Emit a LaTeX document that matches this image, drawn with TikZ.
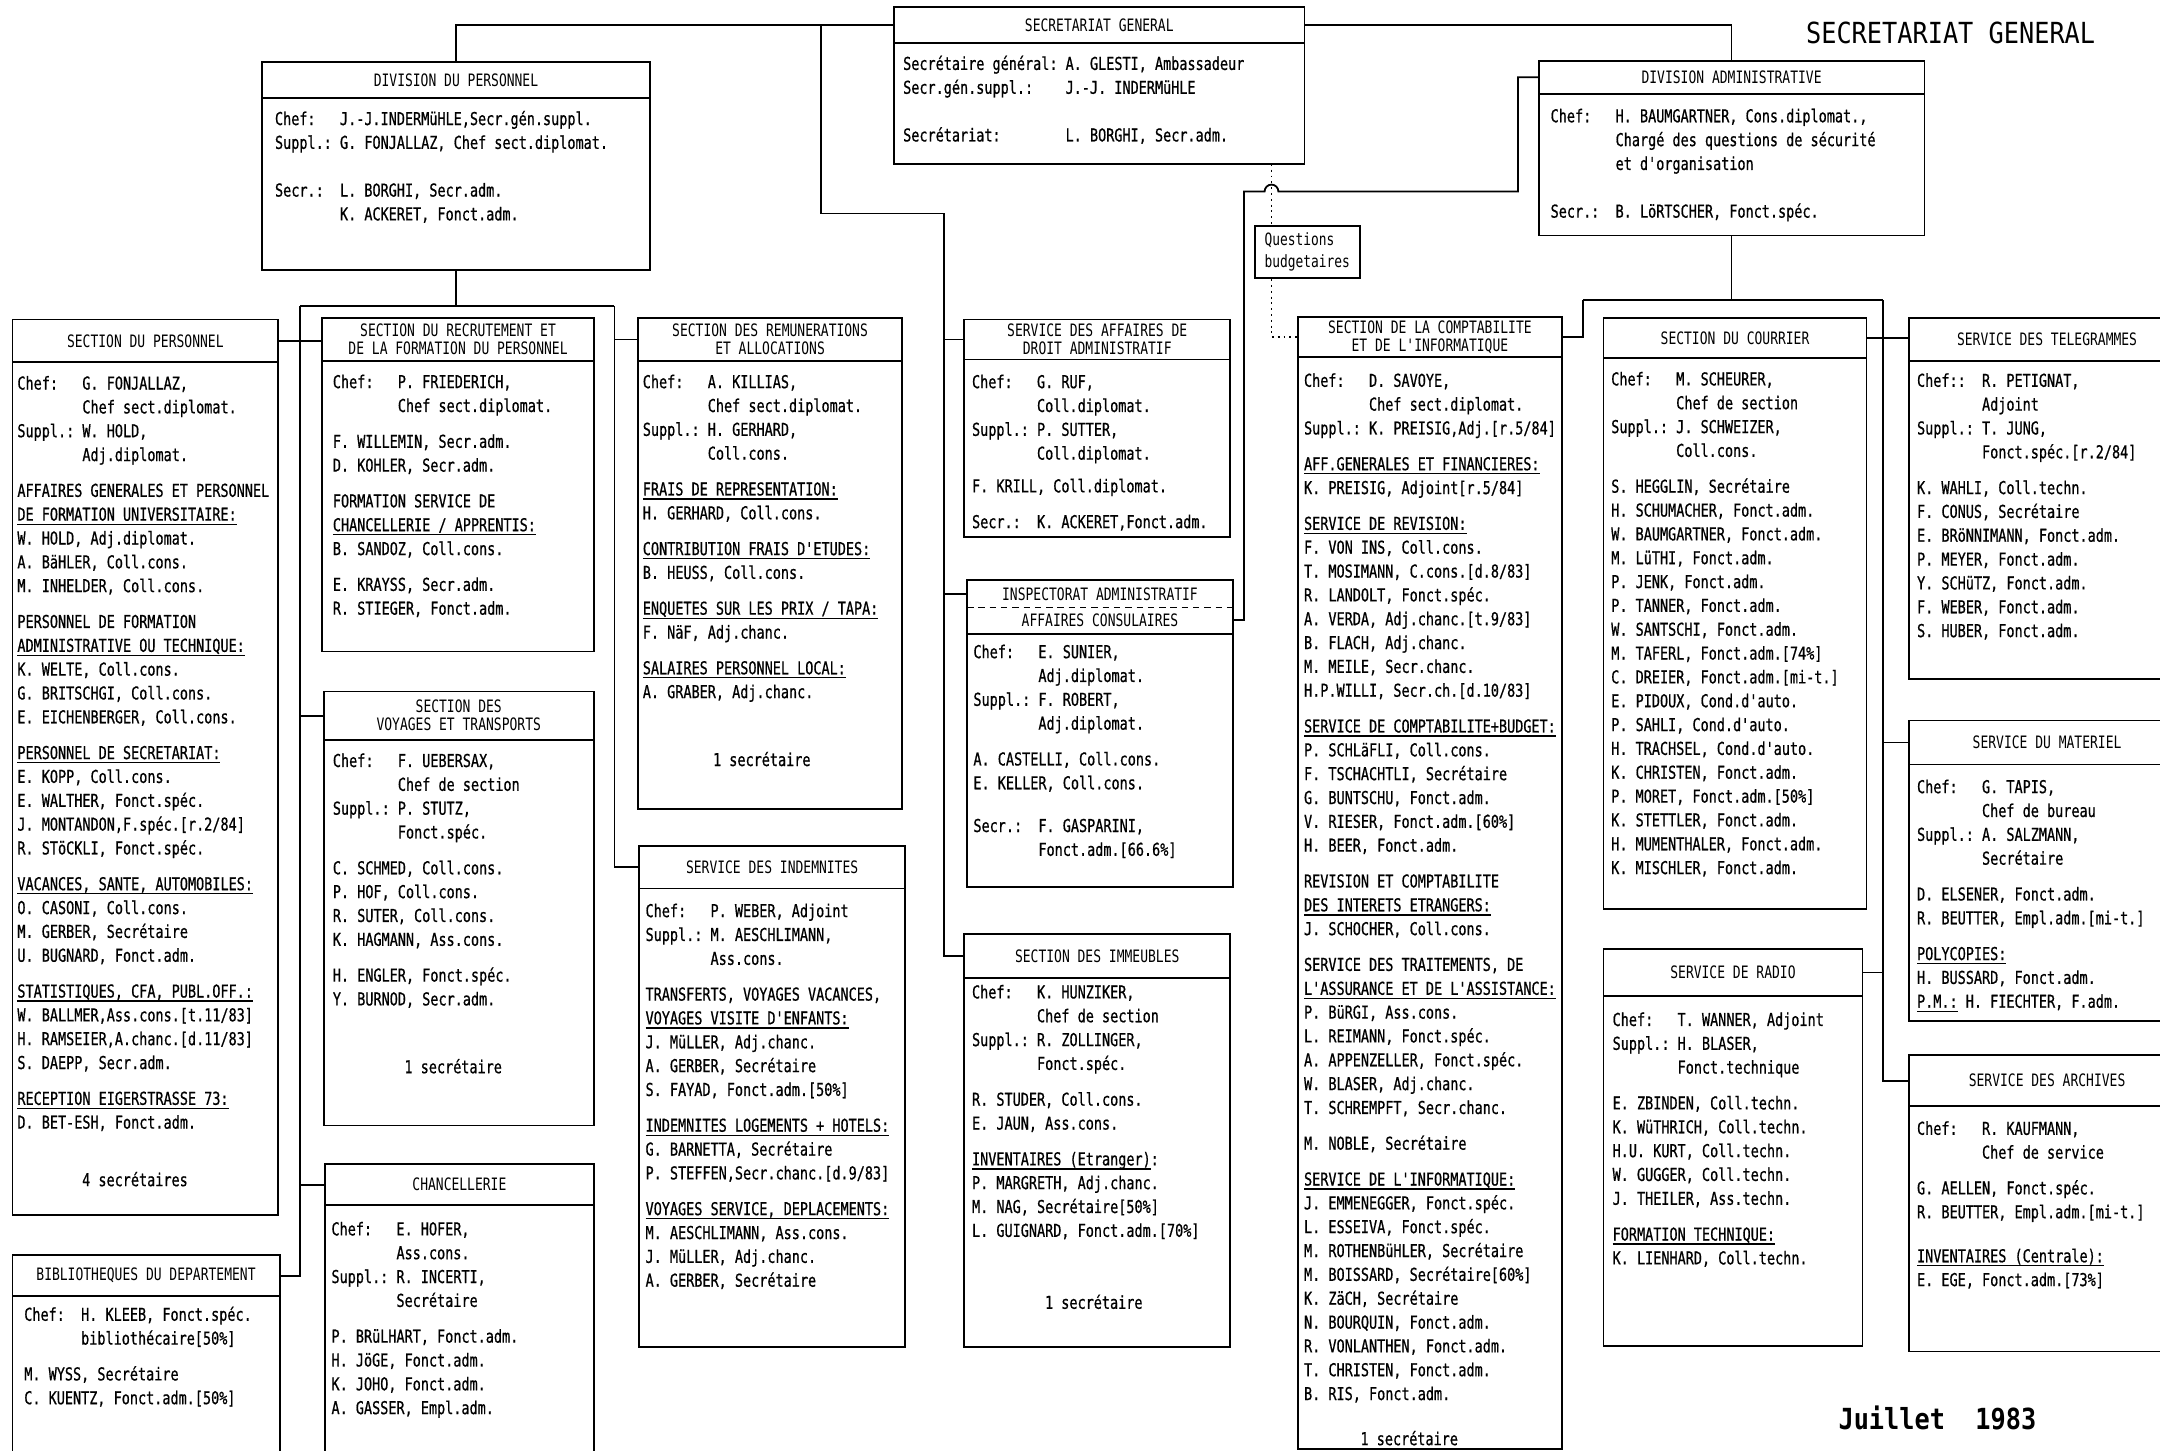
\documentclass[tikz,border=0pt]{standalone}
\usepackage{fontspec}
\usepackage{tikz}
\usetikzlibrary{calc,positioning}

\setmonofont[FakeStretch=0.76]{DejaVu Sans Mono}
\newfontfamily\orgfont[FakeStretch=0.76, FakeBold=0.7]{DejaVu Sans Mono}
\newfontfamily\bigfont[FakeStretch=0.87]{DejaVu Sans Mono}
\newcommand\bodyfont{\orgfont\fontsize{11}{14.77}\selectfont}
\newcommand\titlefont{\ttfamily\fontsize{10.6}{11.1}\selectfont}
\newcommand\qfont{\ttfamily\fontsize{10.5}{13.7}\selectfont}
\newcommand\pagefont{\bigfont\fontsize{18}{20}\selectfont}

\newlength\chw
\settowidth\chw{\bodyfont M}
\newcommand\plab[2][8]{\makebox[#1\chw][l]{#2}}
\newcommand\pind{\hspace*{8\chw}}
\newcommand\pgap{\\[7.4pt]}
\newcommand\pblank{\\[14.77pt]}
\newcommand\hdul[1]{\setbox0\hbox{#1}\rlap{\rule[-2.6pt]{\wd0}{0.8pt}}\box0\relax}

\tikzset{
  unit/.style={draw, inner sep=0pt, outer sep=0pt, anchor=north west},
  unittitle/.style={font=\titlefont, align=center, inner sep=0pt},
  unitbody/.style={font=\bodyfont, align=left, inner sep=0pt, anchor=north west},
  note/.style={font=\bodyfont, inner sep=0pt},
  budget/.style={dash pattern=on 1.2pt off 2.4pt},
  budgetbox/.style={draw, font=\qfont, align=left, inner sep=0pt,
    minimum width=76*0.03cm, minimum height=38*0.03cm},
}

% box: name, x, y, width, height, header height, body offset, title, body
\newcommand{\orgunit}[9]{%
  \node[unit, minimum width=#4*0.03cm, minimum height=#5*0.03cm] (#1) at (#2,#3) {};
  \draw (#1.north west) ++(0,#6) -- ++(#4,0);
  \path (#1.north west) ++(#4/2,#6/2) node[unittitle] (#1-t) {#8};
  \path (#1.north west) ++(#7) node[unitbody] (#1-b) {\strut#9};
}

\begin{document}
\begin{tikzpicture}[x=0.03cm, y=-0.03cm, line width=1.1pt]
        \path[fill=white, use as bounding box] (0,0) rectangle (1568,1053);

        % top
        \orgunit{sg}{649}{5}{298}{114}{26}{6,33}{SECRETARIAT GENERAL}{%
          \plab[20]{Secrétaire général:}A. GLESTI, Ambassadeur\\
          \plab[20]{Secr.gén.suppl.:}J.-J. INDERMüHLE\pblank
          \plab[20]{Secrétariat:}L. BORGHI, Secr.adm.}
        \orgunit{dp}{190}{45}{282}{151}{26}{9,33}{DIVISION DU PERSONNEL}{%
          \plab{Chef:}J.-J.INDERMüHLE,Secr.gén.suppl.\\
          \plab{Suppl.:}G. FONJALLAZ, Chef sect.diplomat.\pblank
          \plab{Secr.:}L. BORGHI, Secr.adm.\\
          \pind K. ACKERET, Fonct.adm.}
        \orgunit{da}{1117}{44}{280}{127}{24}{8,32}{DIVISION ADMINISTRATIVE}{%
          \plab{Chef:}H. BAUMGARTNER, Cons.diplomat.,\\
          \pind Chargé des questions de sécurité\\
          \pind et d'organisation\pblank
          \plab{Secr.:}B. LöRTSCHER, Fonct.spéc.}
        \node[budgetbox] (qb) at (949,183) {Questions\\budgetaires};
        \node[font=\pagefont, inner sep=0pt] (pagetitle) at (1416,24) {SECRETARIAT GENERAL};
        \node[font=\pagefont\bfseries, inner sep=0pt, anchor=west] (pagedate) at (1334,1029) {Juillet\ \ 1983};

        % division du personnel
        \orgunit{secpers}{9}{232}{193}{650}{31}{3,38}{SECTION DU PERSONNEL}{%
          \plab{Chef:}G. FONJALLAZ,\\
          \pind Chef sect.diplomat.\\
          \plab{Suppl.:}W. HOLD,\\
          \pind Adj.diplomat.\pgap
          AFFAIRES GENERALES ET PERSONNEL\\
          \hdul{DE FORMATION UNIVERSITAIRE:}\\
          W. HOLD, Adj.diplomat.\\
          A. BäHLER, Coll.cons.\\
          M. INHELDER, Coll.cons.\pgap
          PERSONNEL DE FORMATION\\
          \hdul{ADMINISTRATIVE OU TECHNIQUE:}\\
          K. WELTE, Coll.cons.\\
          G. BRITSCHGI, Coll.cons.\\
          E. EICHENBERGER, Coll.cons.\pgap
          \hdul{PERSONNEL DE SECRETARIAT:}\\
          E. KOPP, Coll.cons.\\
          E. WALTHER, Fonct.spéc.\\
          J. MONTANDON,F.spéc.[r.2/84]\\
          R. STöCKLI, Fonct.spéc.\pgap
          \hdul{VACANCES, SANTE, AUTOMOBILES:}\\
          O. CASONI, Coll.cons.\\
          M. GERBER, Secrétaire\\
          U. BUGNARD, Fonct.adm.\pgap
          \hdul{STATISTIQUES, CFA, PUBL.OFF.:}\\
          W. BALLMER,Ass.cons.[t.11/83]\\
          H. RAMSEIER,A.chanc.[d.11/83]\\
          S. DAEPP, Secr.adm.\pgap
          \hdul{RECEPTION EIGERSTRASSE 73:}\\
          D. BET-ESH, Fonct.adm.}
        \node[note] (secpers-n) at (98,856) {4 secrétaires};
        \orgunit{bib}{9}{911}{194}{160}{30}{8,35}{BIBLIOTHEQUES DU DEPARTEMENT}{%
          \plab[7]{Chef:}H. KLEEB, Fonct.spéc.\\
          \hspace*{7\chw}bibliothécaire[50\%]\pgap
          M. WYSS, Secrétaire\\
          C. KUENTZ, Fonct.adm.[50\%]}
        \orgunit{recr}{234}{231}{197}{242}{31}{7,38}{SECTION DU RECRUTEMENT ET\\DE LA FORMATION DU PERSONNEL}{%
          \plab{Chef:}P. FRIEDERICH,\\
          \pind Chef sect.diplomat.\pgap
          F. WILLEMIN, Secr.adm.\\
          D. KOHLER, Secr.adm.\pgap
          FORMATION SERVICE DE\\
          \hdul{CHANCELLERIE / APPRENTIS:}\\
          B. SANDOZ, Coll.cons.\pgap
          E. KRAYSS, Secr.adm.\\
          R. STIEGER, Fonct.adm.}
        \orgunit{voy}{235}{502}{196}{315}{35}{6,42}{SECTION DES\\VOYAGES ET TRANSPORTS}{%
          \plab{Chef:}F. UEBERSAX,\\
          \pind Chef de section\\
          \plab{Suppl.:}P. STUTZ,\\
          \pind Fonct.spéc.\pgap
          C. SCHMED, Coll.cons.\\
          P. HOF, Coll.cons.\\
          R. SUTER, Coll.cons.\\
          K. HAGMANN, Ass.cons.\pgap
          H. ENGLER, Fonct.spéc.\\
          Y. BURNOD, Secr.adm.}
        \node[note] (voy-n) at (329,774) {1 secrétaire};
        \orgunit{chanc}{236}{845}{195}{230}{30}{4,39}{CHANCELLERIE}{%
          \plab{Chef:}E. HOFER,\\
          \pind Ass.cons.\\
          \plab{Suppl.:}R. INCERTI,\\
          \pind Secrétaire\pgap
          P. BRüLHART, Fonct.adm.\\
          H. JöGE, Fonct.adm.\\
          K. JOHO, Fonct.adm.\\
          A. GASSER, Empl.adm.}
        \orgunit{remun}{463}{231}{192}{356}{31}{3,38}{SECTION DES REMUNERATIONS\\ET ALLOCATIONS}{%
          \plab{Chef:}A. KILLIAS,\\
          \pind Chef sect.diplomat.\\
          \plab{Suppl.:}H. GERHARD,\\
          \pind Coll.cons.\pgap
          \hdul{FRAIS DE REPRESENTATION:}\\
          H. GERHARD, Coll.cons.\pgap
          \hdul{CONTRIBUTION FRAIS D'ETUDES:}\\
          B. HEUSS, Coll.cons.\pgap
          \hdul{ENQUETES SUR LES PRIX / TAPA:}\\
          F. NäF, Adj.chanc.\pgap
          \hdul{SALAIRES PERSONNEL LOCAL:}\\
          A. GRABER, Adj.chanc.}
        \node[note] (remun-n) at (553,551) {1 secrétaire};
        \orgunit{indem}{464}{614}{193}{364}{31}{4,39}{SERVICE DES INDEMNITES}{%
          \plab{Chef:}P. WEBER, Adjoint\\
          \plab{Suppl.:}M. AESCHLIMANN,\\
          \pind Ass.cons.\pgap
          TRANSFERTS, VOYAGES VACANCES,\\
          \hdul{VOYAGES VISITE D'ENFANTS:}\\
          J. MüLLER, Adj.chanc.\\
          A. GERBER, Secrétaire\\
          S. FAYAD, Fonct.adm.[50\%]\pgap
          \hdul{INDEMNITES LOGEMENTS + HOTELS:}\\
          G. BARNETTA, Secrétaire\\
          P. STEFFEN,Secr.chanc.[d.9/83]\pgap
          \hdul{VOYAGES SERVICE, DEPLACEMENTS:}\\
          M. AESCHLIMANN, Ass.cons.\\
          J. MüLLER, Adj.chanc.\\
          A. GERBER, Secrétaire}

        % services of the secretariat
        \orgunit{droit}{700}{232}{193}{158}{29}{5,37}{SERVICE DES AFFAIRES DE\\DROIT ADMINISTRATIF}{%
          \plab{Chef:}G. RUF,\\
          \pind Coll.diplomat.\\
          \plab{Suppl.:}P. SUTTER,\\
          \pind Coll.diplomat.\\[5.5pt]
          F. KRILL, Coll.diplomat.\pgap
          \plab{Secr.:}K. ACKERET,Fonct.adm.}
        \orgunit{insp}{702}{421}{193}{223}{39}{4,44}{INSPECTORAT ADMINISTRATIF\\[5pt]AFFAIRES CONSULAIRES}{%
          \plab{Chef:}E. SUNIER,\\
          \pind Adj.diplomat.\\
          \plab{Suppl.:}F. ROBERT,\\
          \pind Adj.diplomat.\pgap
          A. CASTELLI, Coll.cons.\\
          E. KELLER, Coll.cons.\\[11.7pt]
          \plab{Secr.:}F. GASPARINI,\\
          \pind Fonct.adm.[66.6\%]}
        \draw[dash pattern=on 4pt off 3pt] (insp.north west) ++(0,20) -- ++(193,0);
        \coordinate (insp-a) at ([yshift=-0.3cm]insp.north west);
        \coordinate (insp-c) at ([yshift=-0.87cm]insp.north east);
        \orgunit{imm}{700}{678}{193}{300}{32}{5,34}{SECTION DES IMMEUBLES}{%
          \plab{Chef:}K. HUNZIKER,\\
          \pind Chef de section\\
          \plab{Suppl.:}R. ZOLLINGER,\\
          \pind Fonct.spéc.\pgap
          R. STUDER, Coll.cons.\\
          E. JAUN, Ass.cons.\pgap
          \hdul{INVENTAIRES (Etranger)}:\\
          P. MARGRETH, Adj.chanc.\\
          M. NAG, Secrétaire[50\%]\\
          L. GUIGNARD, Fonct.adm.[70\%]}
        \node[note] (imm-n) at (794,945) {1 secrétaire};

        % division administrative
        \orgunit{compta}{942}{230}{192}{822}{29}{4,38}{SECTION DE LA COMPTABILITE\\ET DE L'INFORMATIQUE}{%
          \plab{Chef:}D. SAVOYE,\\
          \pind Chef sect.diplomat.\\
          \plab{Suppl.:}K. PREISIG,Adj.[r.5/84]\pgap
          \hdul{AFF.GENERALES ET FINANCIERES:}\\
          K. PREISIG, Adjoint[r.5/84]\pgap
          \hdul{SERVICE DE REVISION:}\\
          F. VON INS, Coll.cons.\\
          T. MOSIMANN, C.cons.[d.8/83]\\
          R. LANDOLT, Fonct.spéc.\\
          A. VERDA, Adj.chanc.[t.9/83]\\
          B. FLACH, Adj.chanc.\\
          M. MEILE, Secr.chanc.\\
          H.P.WILLI, Secr.ch.[d.10/83]\pgap
          \hdul{SERVICE DE COMPTABILITE+BUDGET:}\\
          P. SCHLäFLI, Coll.cons.\\
          F. TSCHACHTLI, Secrétaire\\
          G. BUNTSCHU, Fonct.adm.\\
          V. RIESER, Fonct.adm.[60\%]\\
          H. BEER, Fonct.adm.\pgap
          REVISION ET COMPTABILITE\\
          \hdul{DES INTERETS ETRANGERS:}\\
          J. SCHOCHER, Coll.cons.\pgap
          SERVICE DES TRAITEMENTS, DE\\
          \hdul{L'ASSURANCE ET DE L'ASSISTANCE:}\\
          P. BüRGI, Ass.cons.\\
          L. REIMANN, Fonct.spéc.\\
          A. APPENZELLER, Fonct.spéc.\\
          W. BLASER, Adj.chanc.\\
          T. SCHREMPFT, Secr.chanc.\pgap
          M. NOBLE, Secrétaire\pgap
          \hdul{SERVICE DE L'INFORMATIQUE:}\\
          J. EMMENEGGER, Fonct.spéc.\\
          L. ESSEIVA, Fonct.spéc.\\
          M. ROTHENBüHLER, Secrétaire\\
          M. BOISSARD, Secrétaire[60\%]\\
          K. ZäCH, Secrétaire\\
          N. BOURQUIN, Fonct.adm.\\
          R. VONLANTHEN, Fonct.adm.\\
          T. CHRISTEN, Fonct.adm.\\
          B. RIS, Fonct.adm.}
        \node[note] (compta-n) at (1023,1044) {1 secrétaire};
        \orgunit{courrier}{1164}{231}{191}{429}{29}{5,36}{SECTION DU COURRIER}{%
          \plab{Chef:}M. SCHEURER,\\
          \pind Chef de section\\
          \plab{Suppl.:}J. SCHWEIZER,\\
          \pind Coll.cons.\pgap
          S. HEGGLIN, Secrétaire\\
          H. SCHUMACHER, Fonct.adm.\\
          W. BAUMGARTNER, Fonct.adm.\\
          M. LüTHI, Fonct.adm.\\
          P. JENK, Fonct.adm.\\
          P. TANNER, Fonct.adm.\\
          W. SANTSCHI, Fonct.adm.\\
          M. TAFERL, Fonct.adm.[74\%]\\
          C. DREIER, Fonct.adm.[mi-t.]\\
          E. PIDOUX, Cond.d'auto.\\
          P. SAHLI, Cond.d'auto.\\
          H. TRACHSEL, Cond.d'auto.\\
          K. CHRISTEN, Fonct.adm.\\
          P. MORET, Fonct.adm.[50\%]\\
          K. STETTLER, Fonct.adm.\\
          H. MUMENTHALER, Fonct.adm.\\
          K. MISCHLER, Fonct.adm.}
        \orgunit{radio}{1164}{689}{188}{288}{34}{6,43}{SERVICE DE RADIO}{%
          \plab{Chef:}T. WANNER, Adjoint\\
          \plab{Suppl.:}H. BLASER,\\
          \pind Fonct.technique\pgap
          E. ZBINDEN, Coll.techn.\\
          K. WüTHRICH, Coll.techn.\\
          H.U. KURT, Coll.techn.\\
          W. GUGGER, Coll.techn.\\
          J. THEILER, Ass.techn.\pgap
          \hdul{FORMATION TECHNIQUE:}\\
          K. LIENHARD, Coll.techn.}
        \orgunit{tele}{1386}{231}{200}{262}{31}{5,37}{SERVICE DES TELEGRAMMES}{%
          \plab{Chef::}R. PETIGNAT,\\
          \pind Adjoint\\
          \plab{Suppl.:}T. JUNG,\\
          \pind Fonct.spéc.[r.2/84]\pgap
          K. WAHLI, Coll.techn.\\
          F. CONUS, Secrétaire\\
          E. BRöNNIMANN, Fonct.adm.\\
          P. MEYER, Fonct.adm.\\
          Y. SCHüTZ, Fonct.adm.\\
          F. WEBER, Fonct.adm.\\
          S. HUBER, Fonct.adm.}
        \orgunit{mat}{1386}{523}{200}{218}{32}{5,40}{SERVICE DU MATERIEL}{%
          \plab{Chef:}G. TAPIS,\\
          \pind Chef de bureau\\
          \plab{Suppl.:}A. SALZMANN,\\
          \pind Secrétaire\pgap
          D. ELSENER, Fonct.adm.\\
          R. BEUTTER, Empl.adm.[mi-t.]\pgap
          \hdul{POLYCOPIES:}\\
          H. BUSSARD, Fonct.adm.\\
          \hdul{P.M.:} H. FIECHTER, F.adm.}
        \orgunit{arch}{1386}{766}{200}{215}{37}{5,45}{SERVICE DES ARCHIVES}{%
          \plab{Chef:}R. KAUFMANN,\\
          \pind Chef de service\pgap
          G. AELLEN, Fonct.spéc.\\
          R. BEUTTER, Empl.adm.[mi-t.]\\[12.5pt]
          \hdul{INVENTAIRES (Centrale):}\\
          E. EGE, Fonct.adm.[73\%]}

        % links from the secretariat
        \draw (dp.north) |- (sg.west |- sg-t);
        \draw (sg.east |- sg-t) -| (da.north);
        \coordinate (b4a) at (596,155);
        \coordinate (b4) at (685,155);
        \draw (b4a |- sg-t) -- (b4a) -- (b4) |- (imm.west |- imm-t);
        \draw (b4 |- droit-t) -- (droit.west |- droit-t);
        \draw (b4 |- insp-a) -- (insp-a);

        % links of the division du personnel
        \coordinate (b2) at (218,222);
        \coordinate (b3) at (446,222);
        \draw (dp.south) -- (dp.south |- b2);
        \draw (b2) -- (b3);
        \draw (b2) |- (bib.east |- bib-t);
        \draw (secpers.east |- secpers-t) -- (recr.west |- secpers-t);
        \draw (b2 |- voy-t) -- (voy.west |- voy-t);
        \draw (b2 |- chanc-t) -- (chanc.west |- chanc-t);
        \draw (b3) |- (indem.west |- indem-t);
        \draw (b3 |- remun-t) -- (remun.west |- remun-t);

        % links of the division administrative
        \coordinate (b5) at (1149,218);
        \coordinate (b6) at (1367,218);
        \draw (da.south) -- (da.south |- b5);
        \draw (b5) -- (b6);
        \draw (b5) |- (compta.east |- compta-t);
        \draw (b6) |- (arch.west |- arch-t);
        \draw (courrier.east |- courrier-t) -- (tele.west |- courrier-t);
        \draw (radio.east |- radio-t) -- (b6 |- radio-t);
        \draw (b6 |- mat-t) -- (mat.west |- mat-t);
        \coordinate (k1) at (1102,139);
        \coordinate (k2) at (903,139);
        \coordinate (hop) at (923,139);
        \draw (da.west |- da-t) -| (k1) -- ([xshift=0.15cm]hop)
          arc[start angle=0, end angle=180, radius=0.15cm] -- (k2) |- (insp-c);

        % questions budgetaires
        \coordinate (qx) at (923,0);
        \draw[budget] (sg.south -| qx) -- (qb.north -| qx);
        \draw[budget] (qb.south -| qx) |- (compta.west |- compta-t);
\end{tikzpicture}
\end{document}
